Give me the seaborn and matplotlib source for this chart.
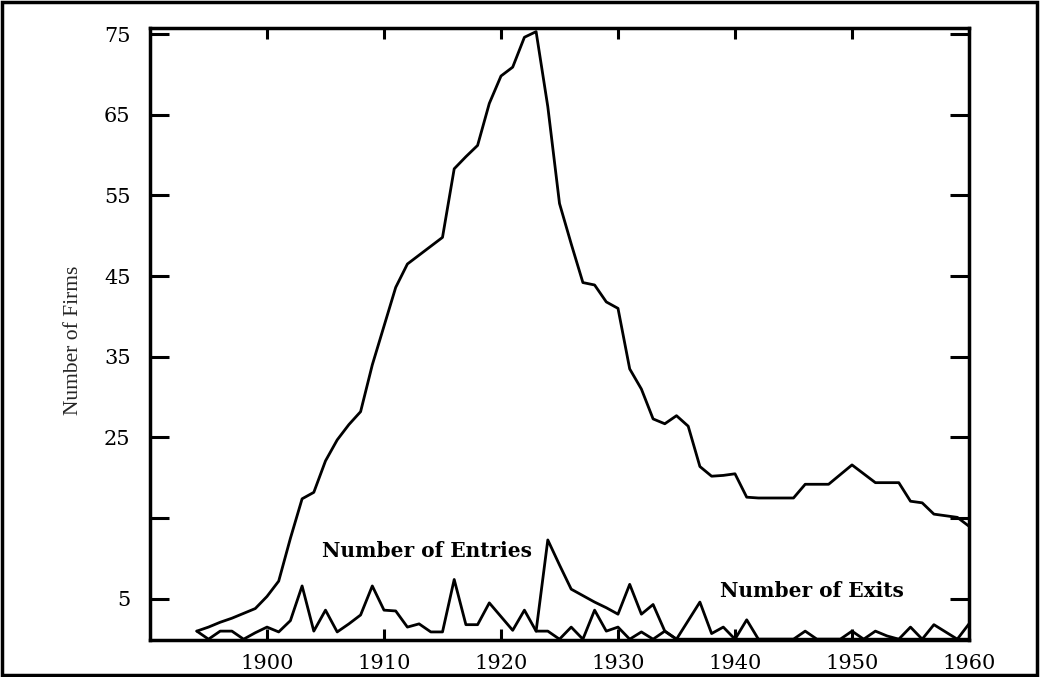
import matplotlib
matplotlib.use("Agg")
import matplotlib.pyplot as plt
from matplotlib.patches import Rectangle
import pandas as pd
import seaborn as sns

# Total number of firms in the industry, by year
years_total = list(range(1894, 1961))
firms_total = [
    1.0, 1.5, 2.1, 2.6, 3.2, 3.8, 5.3, 7.2, 12.5, 17.4,        # 1894-1903
    18.2, 22.1, 24.7, 26.6, 28.2, 34.0, 38.8, 43.6, 46.5, 47.6,  # 1904-1913
    48.7, 49.8, 58.3, 59.8, 61.2, 66.4, 69.8, 70.9, 74.6, 75.3,  # 1914-1923
    66.0, 54.0, 49.0, 44.2, 43.9, 41.8, 41.0, 33.5, 31.0, 27.3,  # 1924-1933
    26.7, 27.7, 26.4, 21.4, 20.2, 20.3, 20.5, 17.6, 17.5, 17.5,  # 1934-1943
    17.5, 17.5, 19.2, 19.2, 19.2, 20.4, 21.6, 20.5, 19.4, 19.4,  # 1944-1953
    19.4, 17.1, 16.9, 15.5, 15.3, 15.1, 14.0,                    # 1954-1960
]

# Firms entering per year
years_entries = list(range(1894, 1961))
entries = [
    1.0, 0.0, 1.0, 1.0, 0.0, 0.8, 1.5, 0.9, 2.3, 6.6,   # 1894-1903
    1.0, 3.6, 0.9, 1.9, 3.0, 6.6, 3.6, 3.5, 1.5, 1.9,   # 1904-1913
    0.9, 0.9, 7.4, 1.8, 1.8, 4.5, 2.8, 1.1, 3.6, 1.0,   # 1914-1923
    1.0, 0.0, 1.5, 0.0, 3.6, 1.0, 1.5, 0.0, 0.9, 0.0,   # 1924-1933
    1.0, 0.0, 0.0, 0.0, 0.0, 0.0, 0.0, 0.0, 0.0, 0.0,   # 1934-1943
    0.0, 0.0, 1.0, 0.0, 0.0, 0.0, 1.0, 0.0, 0.0, 0.0,   # 1944-1953
    0.0, 0.0, 0.0, 0.0, 0.0, 0.0, 0.0,                  # 1954-1960
]

# Firms leaving per year
years_exits = list(range(1923, 1961))
exits = [
    1.0, 12.3, 9.2, 6.2, 5.4, 4.6, 3.9, 3.1, 6.8, 3.1,  # 1923-1932
    4.3, 1.0, 0.0, 2.3, 4.6, 0.7, 1.5, 0.0, 2.4, 0.0,   # 1933-1942
    0.0, 0.0, 0.0, 0.0, 0.0, 0.0, 0.0, 0.0, 0.0, 1.0,   # 1943-1952
    0.4, 0.0, 1.5, 0.0, 1.8, 0.9, 0.0, 1.9,             # 1953-1960
]

xtick_values = [1900, 1910, 1920, 1930, 1940, 1950, 1960]
xtick_labels = ["1900", "1910", "1920", "1930", "1940", "1950", "1960"]
ytick_values = [5, 15, 25, 35, 45, 55, 65, 75]
ytick_labels = ["5", "", "25", "35", "45", "55", "65", "75"]

df_total = pd.DataFrame({"year": years_total, "firms": firms_total})
df_entries = pd.DataFrame({"year": years_entries, "count": entries})
df_exits = pd.DataFrame({"year": years_exits, "count": exits})

sns.set_theme(style="ticks")
plt.rcParams["font.family"] = ["DejaVu Serif", "DejaVu Sans"]

fig = plt.figure(figsize=(10.41, 6.77), dpi=100)
fig.patch.set_facecolor("white")
ax = fig.add_axes([150 / 1041, 1 - 640 / 677, 819 / 1041, 612 / 677])
ax.set_facecolor("white")

line_kw = dict(color="black", linewidth=2.0, estimator=None, ax=ax)
sns.lineplot(data=df_total, x="year", y="firms", **line_kw)
sns.lineplot(data=df_entries, x="year", y="count", **line_kw)
sns.lineplot(data=df_exits, x="year", y="count", **line_kw)

ax.set_xlim(1890, 1960)
ax.set_ylim(-0.1, 75.75)

ax.set_xticks(xtick_values)
ax.set_xticklabels(xtick_labels)
ax.set_yticks(ytick_values)
ax.set_yticklabels(ytick_labels)

for side in ["left", "right", "top", "bottom"]:
    ax.spines[side].set_visible(True)
    ax.spines[side].set_linewidth(2.5)
    ax.spines[side].set_color("black")

ax.tick_params(axis="both", direction="in", colors="black", width=2.2,
               labelsize=15, top=True, right=True)
ax.tick_params(axis="x", length=8, pad=10)
ax.tick_params(axis="y", length=14, pad=14)

ax.set_xlabel("")
ax.set_ylabel("Number of Firms", fontsize=15.5,
              family=["Liberation Serif", "DejaVu Serif"])
ax.yaxis.set_label_coords(-0.082, 0.49)

ax.text(1904.7, 10.9, "Number of Entries", ha="left", va="center",
        fontsize=14.5, fontweight="bold", color="black")
ax.text(1938.7, 6.0, "Number of Exits", ha="left", va="center",
        fontsize=14.5, fontweight="bold", color="black")

# frame around the whole figure
fig.patches.append(Rectangle((2 / 1041, 2 / 677), 1035 / 1041, 673 / 677,
                             transform=fig.transFigure, fill=False,
                             linewidth=2.5, edgecolor="black"))

fig.savefig("out.png", dpi=100, facecolor="white")
